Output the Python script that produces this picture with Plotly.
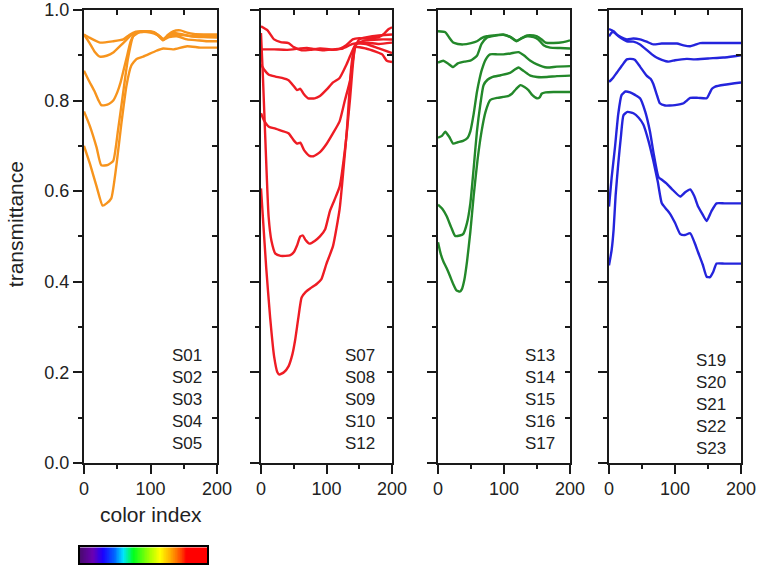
import plotly.graph_objects as go

# ---------------- data ----------------
# Panel 1 (orange): S01-S05
o1_x = [0, 8, 24, 44, 59, 68, 78, 90, 105, 112, 119, 126, 134, 145, 155, 165, 180, 200]
o1_y = [0.946, 0.939, 0.928, 0.931, 0.935, 0.945, 0.952, 0.953, 0.951, 0.944, 0.935, 0.945, 0.953, 0.955, 0.950, 0.947, 0.946, 0.946]
o2_x = [0, 8, 16, 24, 34, 44, 54, 63, 72, 80, 92, 105, 112, 119, 126, 134, 145, 160, 180, 200]
o2_y = [0.946, 0.928, 0.908, 0.897, 0.899, 0.906, 0.920, 0.933, 0.946, 0.951, 0.953, 0.950, 0.943, 0.933, 0.942, 0.949, 0.947, 0.942, 0.940, 0.939]
o3_x = [0, 8, 16, 22, 26, 32, 38, 44, 50, 55, 60, 65, 70, 75, 80, 90, 100, 110, 119, 128, 140, 155, 170, 185, 200]
o3_y = [0.866, 0.842, 0.820, 0.800, 0.790, 0.790, 0.793, 0.800, 0.818, 0.840, 0.870, 0.900, 0.930, 0.945, 0.950, 0.952, 0.950, 0.945, 0.934, 0.940, 0.942, 0.935, 0.933, 0.931, 0.931]
o4_x = [0, 9, 19, 26, 36, 44, 51, 59, 66, 74, 84, 100, 112, 119, 128, 140, 160, 180, 200]
o4_y = [0.776, 0.743, 0.696, 0.657, 0.658, 0.667, 0.733, 0.819, 0.892, 0.942, 0.951, 0.952, 0.945, 0.936, 0.944, 0.946, 0.943, 0.942, 0.942]
o5_x = [0, 9, 19, 28, 34, 41, 49, 56, 64, 71, 79, 89, 109, 119, 134, 155, 175, 200]
o5_y = [0.700, 0.660, 0.610, 0.568, 0.573, 0.584, 0.660, 0.747, 0.834, 0.877, 0.892, 0.897, 0.910, 0.915, 0.913, 0.920, 0.917, 0.917]

# Panel 2 (red): S07-S12
r1_x = [0, 10, 20, 30, 42, 50, 62, 75, 90, 100, 110, 120, 130, 140, 150, 160, 170, 180, 188, 195, 200]
r1_y = [0.964, 0.955, 0.935, 0.929, 0.927, 0.918, 0.911, 0.912, 0.915, 0.914, 0.912, 0.914, 0.922, 0.935, 0.938, 0.937, 0.938, 0.940, 0.948, 0.958, 0.962]
r2_x = [0, 20, 40, 60, 70, 80, 95, 110, 125, 140, 160, 180, 200]
r2_y = [0.913, 0.913, 0.912, 0.915, 0.916, 0.914, 0.911, 0.913, 0.915, 0.925, 0.928, 0.925, 0.928]
r3_x = [0, 5, 12, 22, 32, 42, 50, 55, 60, 65, 72, 82, 90, 100, 110, 120, 130, 138, 145, 160, 180, 200]
r3_y = [0.880, 0.868, 0.857, 0.853, 0.850, 0.845, 0.832, 0.823, 0.826, 0.815, 0.805, 0.805, 0.810, 0.824, 0.840, 0.850, 0.878, 0.905, 0.925, 0.933, 0.935, 0.935]
r4_x = [0, 5, 12, 22, 32, 42, 50, 55, 60, 66, 74, 80, 90, 100, 110, 120, 128, 136, 143, 150, 170, 200]
r4_y = [0.772, 0.755, 0.742, 0.738, 0.733, 0.728, 0.712, 0.705, 0.707, 0.690, 0.678, 0.677, 0.686, 0.704, 0.728, 0.754, 0.800, 0.845, 0.913, 0.935, 0.942, 0.946]
r5_x = [0, 3, 7, 11.6, 16, 22, 30, 44, 50, 55, 60, 64, 68, 74, 82, 90, 98, 105, 112, 120, 128, 136, 141, 145, 160, 180, 200]
r5_y = [0.949, 0.850, 0.700, 0.544, 0.490, 0.462, 0.457, 0.458, 0.465, 0.480, 0.500, 0.502, 0.492, 0.484, 0.490, 0.500, 0.516, 0.555, 0.580, 0.610, 0.690, 0.805, 0.890, 0.925, 0.925, 0.915, 0.905]
r6_x = [0, 3, 8, 14, 20, 25, 28, 35, 42, 48, 52, 57, 62, 68, 75, 85, 92, 100, 110, 120, 126, 131, 138, 143, 160, 175, 185, 192, 200]
r6_y = [0.606, 0.540, 0.430, 0.320, 0.235, 0.200, 0.195, 0.200, 0.213, 0.240, 0.270, 0.320, 0.365, 0.377, 0.385, 0.395, 0.405, 0.440, 0.479, 0.560, 0.650, 0.732, 0.877, 0.918, 0.915, 0.908, 0.902, 0.888, 0.885]

# Panel 3 (green): S13-S17
g1_x = [0, 11, 18, 23, 30, 38, 50, 59, 66, 74, 85, 99, 110, 119, 127, 135, 145, 150, 157, 163, 175, 190, 200]
g1_y = [0.953, 0.951, 0.937, 0.928, 0.925, 0.924, 0.927, 0.931, 0.938, 0.942, 0.944, 0.946, 0.940, 0.931, 0.938, 0.944, 0.944, 0.942, 0.935, 0.928, 0.927, 0.929, 0.933]
g2_x = [0, 8, 15, 23, 30, 40, 49, 59, 66, 74, 85, 99, 110, 119, 127, 135, 145, 152, 160, 170, 185, 200]
g2_y = [0.884, 0.888, 0.882, 0.874, 0.882, 0.886, 0.888, 0.899, 0.925, 0.939, 0.943, 0.945, 0.940, 0.932, 0.938, 0.942, 0.940, 0.935, 0.922, 0.917, 0.916, 0.915]
g3_x = [0, 6, 11, 17, 23, 30, 38, 45, 49, 54, 59, 63, 66, 72, 79, 90, 99, 110, 122, 130, 140, 150, 165, 180, 200]
g3_y = [0.718, 0.722, 0.731, 0.720, 0.705, 0.708, 0.711, 0.718, 0.732, 0.770, 0.819, 0.848, 0.866, 0.890, 0.902, 0.902, 0.902, 0.904, 0.907, 0.900, 0.888, 0.880, 0.873, 0.875, 0.876]
g4_x = [0, 7, 13, 20, 26, 33, 38, 44, 49, 54, 59, 64, 69, 75, 82, 95, 109, 116, 122, 130, 140, 150, 165, 180, 200]
g4_y = [0.570, 0.560, 0.545, 0.520, 0.501, 0.502, 0.505, 0.530, 0.573, 0.650, 0.732, 0.790, 0.834, 0.846, 0.852, 0.856, 0.861, 0.868, 0.873, 0.865, 0.855, 0.852, 0.852, 0.854, 0.855]
g5_x = [0, 4, 8, 13, 18, 23, 28, 33, 36, 40, 44, 49, 54, 60, 66, 72, 79, 90, 99, 106, 112, 118, 125, 131, 137, 143, 150, 154, 157, 163, 175, 200]
g5_y = [0.487, 0.462, 0.445, 0.430, 0.413, 0.395, 0.381, 0.378, 0.383, 0.405, 0.445, 0.510, 0.589, 0.670, 0.732, 0.775, 0.801, 0.806, 0.808, 0.810, 0.815, 0.825, 0.834, 0.830, 0.823, 0.812, 0.805, 0.807, 0.815, 0.818, 0.819, 0.819]

# Panel 4 (blue): S19-S23
b1_x = [0, 5, 9, 18, 27, 37, 47, 57, 67, 80, 90, 103, 113, 123, 130, 138, 150, 170, 200]
b1_y = [0.958, 0.955, 0.949, 0.940, 0.935, 0.937, 0.935, 0.930, 0.924, 0.926, 0.926, 0.926, 0.922, 0.920, 0.923, 0.927, 0.927, 0.927, 0.927]
b2_x = [0, 4, 7, 12, 18, 27, 37, 47, 57, 65, 72, 80, 90, 100, 110, 118, 130, 150, 173, 190, 200]
b2_y = [0.942, 0.950, 0.953, 0.945, 0.938, 0.931, 0.930, 0.924, 0.912, 0.902, 0.895, 0.890, 0.886, 0.889, 0.891, 0.892, 0.891, 0.893, 0.895, 0.898, 0.900]
b3_x = [0, 6, 12, 20, 27, 33, 39, 47, 57, 63, 67, 72, 77, 85, 92, 100, 113, 118, 123, 135, 148, 152, 156, 161, 175, 200]
b3_y = [0.841, 0.850, 0.862, 0.878, 0.891, 0.892, 0.890, 0.875, 0.855, 0.848, 0.837, 0.815, 0.794, 0.789, 0.789, 0.790, 0.794, 0.800, 0.806, 0.806, 0.805, 0.815, 0.826, 0.831, 0.835, 0.840]
b4_x = [0, 4, 9, 14, 19, 25, 32, 40, 47, 55, 62, 68, 75, 80, 87, 95, 108, 115, 123, 129, 135, 142, 148, 155, 163, 175, 200]
b4_y = [0.566, 0.630, 0.696, 0.770, 0.812, 0.820, 0.818, 0.812, 0.805, 0.775, 0.732, 0.680, 0.631, 0.625, 0.617, 0.605, 0.588, 0.597, 0.604, 0.590, 0.566, 0.548, 0.534, 0.555, 0.573, 0.573, 0.573]
b5_x = [0, 4, 7, 10, 14, 18, 22, 28, 37, 45, 52, 60, 67, 74, 80, 87, 92, 100, 108, 115, 123, 130, 135, 142, 148, 153, 158, 163, 175, 200]
b5_y = [0.436, 0.470, 0.515, 0.590, 0.660, 0.720, 0.768, 0.775, 0.772, 0.762, 0.747, 0.710, 0.668, 0.620, 0.573, 0.560, 0.551, 0.530, 0.505, 0.503, 0.507, 0.485, 0.465, 0.438, 0.411, 0.410, 0.422, 0.440, 0.440, 0.440]

panel_labels = [
    ["S01", "S02", "S03", "S04", "S05"],
    ["S07", "S08", "S09", "S10", "S12"],
    ["S13", "S14", "S15", "S16", "S17"],
    ["S19", "S20", "S21", "S22", "S23"],
]
panel_colors = ["#F7941D", "#EE1C24", "#23882A", "#2424DC"]

x_ticks = [0, 100, 200]
x_minor = [50, 150]
y_ticks = [0.0, 0.2, 0.4, 0.6, 0.8, 1.0]
y_minor = [0.1, 0.3, 0.5, 0.7, 0.9]

# color-index rainbow bar
colorbar_index = list(range(200))
rainbow_stops = [
    [0.00, "#4A0A70"], [0.10, "#6A00B4"], [0.18, "#1A00FF"], [0.27, "#0064FF"],
    [0.34, "#00E6FF"], [0.42, "#00FF1E"], [0.55, "#A6FF00"], [0.63, "#FFFF00"],
    [0.71, "#FFB000"], [0.79, "#FF5000"], [0.84, "#FF0000"], [1.00, "#FF0000"],
]

panels = [
    [(o1_x, o1_y), (o2_x, o2_y), (o3_x, o3_y), (o4_x, o4_y), (o5_x, o5_y)],
    [(r1_x, r1_y), (r2_x, r2_y), (r3_x, r3_y), (r4_x, r4_y), (r5_x, r5_y), (r6_x, r6_y)],
    [(g1_x, g1_y), (g2_x, g2_y), (g3_x, g3_y), (g4_x, g4_y), (g5_x, g5_y)],
    [(b1_x, b1_y), (b2_x, b2_y), (b3_x, b3_y), (b4_x, b4_y), (b5_x, b5_y)],
]

# ---------------- figure ----------------
W, H = 757, 574
ML, MR, MT, MB = 78, 16, 10, 0
PW, PH = W - ML - MR, H - MT - MB

def px_x(p):
    return (p - ML) / PW

def px_y(p):
    return (H - MB - p) / PH

panel_px = [(84, 217), (261, 392), (438, 570), (609, 741)]
y_dom = [px_y(471), 1.0]

AX = "#1a1a1a"
FONT = "Liberation Sans, Arial, sans-serif"
TXT = "#222222"

fig = go.Figure()

for i, curves in enumerate(panels):
    n = i + 1
    for cx, cy in curves:
        fig.add_trace(go.Scatter(
            x=cx, y=cy, mode="lines", xaxis=f"x{n}", yaxis=f"y{n}",
            line=dict(color=panel_colors[i], width=2.4, shape="spline", smoothing=0.5),
            showlegend=False, hoverinfo="skip"))
    # dummy traces to activate mirror axes
    fig.add_trace(go.Scatter(x=[None], y=[None], xaxis=f"x{n+4}", yaxis=f"y{n}",
                             showlegend=False, hoverinfo="skip"))
    fig.add_trace(go.Scatter(x=[None], y=[None], xaxis=f"x{n}", yaxis=f"y{n+4}",
                             showlegend=False, hoverinfo="skip"))

# rainbow bar
fig.add_trace(go.Heatmap(z=[colorbar_index], x=colorbar_index, colorscale=rainbow_stops,
                         showscale=False, xaxis="x9", yaxis="y9", hoverinfo="skip"))

layout = dict(
    width=W, height=H,
    margin=dict(l=ML, r=MR, t=MT, b=MB),
    paper_bgcolor="white", plot_bgcolor="white",
    font=dict(family=FONT, color=TXT, size=18),
    showlegend=False,
)

for i in range(4):
    n = i + 1
    x0, x1 = panel_px[i]
    dom = [px_x(x0), px_x(x1)]
    layout[f"xaxis{n}"] = dict(
        domain=dom, range=[0, 200], anchor=f"y{n}",
        tickvals=x_ticks, ticks="outside", ticklen=9, tickwidth=2, tickcolor=AX,
        minor=dict(tickvals=x_minor, ticks="outside", ticklen=4, tickwidth=2, tickcolor=AX),
        showline=True, linewidth=2, linecolor=AX, showgrid=False, zeroline=False,
        tickfont=dict(size=18, family=FONT, color=TXT), fixedrange=True,
    )
    layout[f"yaxis{n}"] = dict(
        domain=y_dom, range=[0, 1], anchor=f"x{n}",
        tickvals=y_ticks, tickformat=".1f", ticks="outside", ticklen=9, tickwidth=2, tickcolor=AX,
        minor=dict(tickvals=y_minor, ticks="outside", ticklen=4, tickwidth=2, tickcolor=AX),
        showline=True, linewidth=2, linecolor=AX, showgrid=False, zeroline=False,
        showticklabels=(n == 1), tickfont=dict(size=18, family=FONT, color=TXT), fixedrange=True,
    )
    layout[f"xaxis{n+4}"] = dict(
        overlaying=f"x{n}", side="top", anchor=f"y{n}", range=[0, 200],
        tickvals=x_minor[:1] + x_ticks[1:2] + x_minor[1:], ticks="inside", ticklen=5, tickwidth=2,
        tickcolor=AX, showticklabels=False, showline=True, linewidth=2, linecolor=AX,
        showgrid=False, zeroline=False, fixedrange=True,
    )
    layout[f"yaxis{n+4}"] = dict(
        overlaying=f"y{n}", side="right", anchor=f"x{n}", range=[0, 1],
        tickvals=y_minor + y_ticks[1:-1], ticks="inside", ticklen=5, tickwidth=2,
        tickcolor=AX, showticklabels=False, showline=True, linewidth=2, linecolor=AX,
        showgrid=False, zeroline=False, fixedrange=True,
    )

layout["xaxis9"] = dict(domain=[px_x(80), px_x(207)], anchor="y9", range=[-0.5, 199.5],
                        showticklabels=False, ticks="", showline=True, mirror=True,
                        linewidth=2, linecolor="#000", showgrid=False, zeroline=False,
                        fixedrange=True)
layout["yaxis9"] = dict(domain=[px_y(573), px_y(557)], anchor="x9", range=[-0.5, 0.5],
                        showticklabels=False, ticks="", showline=True, mirror=True,
                        linewidth=2, linecolor="#000", showgrid=False, zeroline=False,
                        fixedrange=True)

annotations = []
label_pos = [(180, 0.139), (177, 0.139), (180, 0.139), (180, 0.129)]
for i, labs in enumerate(panel_labels):
    n = i + 1
    lx, ly = label_pos[i]
    annotations.append(dict(
        text="<br>".join(labs), xref=f"x{n}", yref=f"y{n}", x=lx, y=ly,
        xanchor="right", yanchor="middle", align="right", showarrow=False,
        font=dict(size=17, family=FONT, color=TXT)))

annotations.append(dict(text="transmittance", xref="paper", yref="paper",
                        x=px_x(15), y=px_y(228), textangle=-90, showarrow=False,
                        xanchor="center", yanchor="middle",
                        font=dict(size=21, family=FONT, color=TXT)))
annotations.append(dict(text="color index", xref="paper", yref="paper",
                        x=px_x(150.5), y=px_y(524), showarrow=False,
                        xanchor="center", yanchor="middle",
                        font=dict(size=21, family=FONT, color=TXT)))
layout["annotations"] = annotations

fig.update_layout(**layout)
# remove the default 8px page margin so the figure fills the window exactly
fig.write_html("out.html",
               config={"displayModeBar": False, "staticPlot": True},
               post_script="document.body.style.margin='0';document.body.style.overflow='hidden';")
